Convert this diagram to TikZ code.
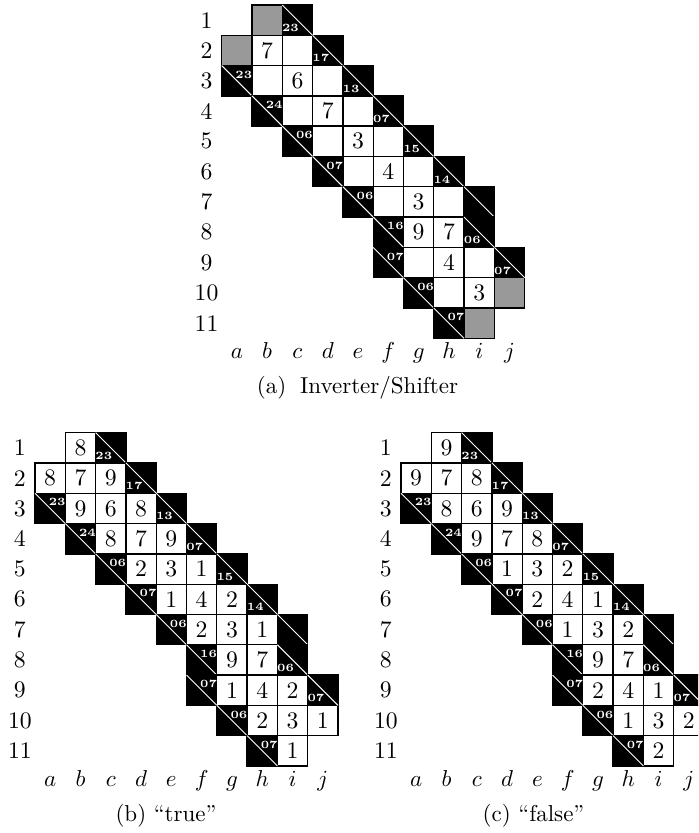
\documentclass[tikz,border=0pt]{standalone}
\usepackage{fontspec}
\newcommand\gp{A}
\newcommand\kwhite[3]{\draw[wcell] (#1-1,#2-1) rectangle (#1,#2); \node[digit] (\gp-w-#1-#2) at (#1-.5,#2-.5) {#3};}
\newcommand\kempty[2]{\draw[wcell] (#1-1,#2-1) rectangle (#1,#2);}
\newcommand\kgray[2]{\draw[gcell] (#1-1,#2-1) rectangle (#1,#2);}
\newcommand\kblack[4]{\draw[bcell] (#1-1,#2-1) rectangle (#1,#2);
  \draw[diag] (#1-1,#2-1) -- (#1,#2);
  \node[clue] (\gp-d-#1-#2) at (#1-.73,#2-.24) {#3};
  \node[clue] (\gp-a-#1-#2) at (#1-.27,#2-.70) {#4};}
\newcommand\kblacks{%
  \kblack{3}{1}{23}{}
  \kblack{4}{2}{17}{}
  \kblack{1}{3}{}{23} \kblack{5}{3}{13}{}
  \kblack{2}{4}{}{24} \kblack{6}{4}{07}{}
  \kblack{3}{5}{}{06} \kblack{7}{5}{15}{}
  \kblack{4}{6}{}{07} \kblack{8}{6}{14}{}
  \kblack{5}{7}{}{06} \kblack{9}{7}{}{}
  \kblack{6}{8}{}{16} \kblack{9}{8}{06}{}
  \kblack{6}{9}{}{07} \kblack{10}{9}{07}{}
  \kblack{7}{10}{}{06}
  \kblack{8}{11}{}{07}}
\newcommand\klabels{%
  \foreach \r in {1,...,11} {\node[lbl] (\gp-r-\r) at (-.5,\r-.5) {\r};}
  \foreach \c/\l in {1/a,2/b,3/c,4/d,5/e,6/f,7/g,8/h,9/i,10/j}
    {\node[lbl,anchor=base] (\gp-c-\c) at (\c-.5,11.67) {$\l$};}}
\begin{document}
\begin{tikzpicture}[x=0.4348pt,y=-0.4348pt,
  cellb/.style={draw=black,line width=0.6pt},
  wcell/.style={cellb,fill=white},
  gcell/.style={cellb,fill=black!40},
  bcell/.style={cellb,fill=black},
  diag/.style={draw=white,line width=0.4pt},
  digit/.style={inner sep=0pt,font=\fontsize{10.3}{12}\selectfont},
  clue/.style={inner sep=0pt,text=white,font=\fontsize{4.8}{5.5}\selectfont\bfseries},
  lbl/.style={inner sep=0pt,font=\fontsize{10.3}{12}\selectfont},
  capt/.style={inner sep=0pt,anchor=base,font=\fontsize{10}{12}\selectfont}]
\useasboundingbox (0,0) rectangle (698,833);
\clip (0,0) rectangle (698,833);
\fill[white] (0,0) rectangle (698,833);

% (a)
\begin{scope}[shift={(221.7,5)},x=13.174pt,y=-13.174pt]
\renewcommand\gp{A}
\kgray{2}{1}
\kgray{1}{2} \kwhite{2}{2}{7} \kempty{3}{2}
\kempty{2}{3} \kwhite{3}{3}{6} \kempty{4}{3}
\kempty{3}{4} \kwhite{4}{4}{7} \kempty{5}{4}
\kempty{4}{5} \kwhite{5}{5}{3} \kempty{6}{5}
\kempty{5}{6} \kwhite{6}{6}{4} \kempty{7}{6}
\kempty{6}{7} \kwhite{7}{7}{3} \kempty{8}{7}
\kwhite{7}{8}{9} \kwhite{8}{8}{7}
\kempty{7}{9} \kwhite{8}{9}{4} \kempty{9}{9}
\kempty{8}{10} \kwhite{9}{10}{3} \kgray{10}{10}
\kgray{9}{11}
\kblacks
\klabels
\end{scope}

% (b)
\begin{scope}[shift={(35,432.7)},x=13.174pt,y=-13.174pt]
\renewcommand\gp{B}
\kwhite{2}{1}{8}
\kwhite{1}{2}{8} \kwhite{2}{2}{7} \kwhite{3}{2}{9}
\kwhite{2}{3}{9} \kwhite{3}{3}{6} \kwhite{4}{3}{8}
\kwhite{3}{4}{8} \kwhite{4}{4}{7} \kwhite{5}{4}{9}
\kwhite{4}{5}{2} \kwhite{5}{5}{3} \kwhite{6}{5}{1}
\kwhite{5}{6}{1} \kwhite{6}{6}{4} \kwhite{7}{6}{2}
\kwhite{6}{7}{2} \kwhite{7}{7}{3} \kwhite{8}{7}{1}
\kwhite{7}{8}{9} \kwhite{8}{8}{7}
\kwhite{7}{9}{1} \kwhite{8}{9}{4} \kwhite{9}{9}{2}
\kwhite{8}{10}{2} \kwhite{9}{10}{3} \kwhite{10}{10}{1}
\kwhite{9}{11}{1}
\kblacks
\klabels
\end{scope}

% (c)
\begin{scope}[shift={(401,432.7)},x=13.174pt,y=-13.174pt]
\renewcommand\gp{C}
\kwhite{2}{1}{9}
\kwhite{1}{2}{9} \kwhite{2}{2}{7} \kwhite{3}{2}{8}
\kwhite{2}{3}{8} \kwhite{3}{3}{6} \kwhite{4}{3}{9}
\kwhite{3}{4}{9} \kwhite{4}{4}{7} \kwhite{5}{4}{8}
\kwhite{4}{5}{1} \kwhite{5}{5}{3} \kwhite{6}{5}{2}
\kwhite{5}{6}{2} \kwhite{6}{6}{4} \kwhite{7}{6}{1}
\kwhite{6}{7}{1} \kwhite{7}{7}{3} \kwhite{8}{7}{2}
\kwhite{7}{8}{9} \kwhite{8}{8}{7}
\kwhite{7}{9}{2} \kwhite{8}{9}{4} \kwhite{9}{9}{1}
\kwhite{8}{10}{1} \kwhite{9}{10}{3} \kwhite{10}{10}{2}
\kwhite{9}{11}{2}
\kblacks
\klabels
\end{scope}

\node[capt] (capA) at (357.5,394) {(a)\hspace{6pt}Inverter/Shifter};
\node[capt] (capB) at (166,821.5) {(b)\hspace{3.3pt}“true”};
\node[capt] (capC) at (533.5,821.5) {(c)\hspace{3.3pt}“false”};
\end{tikzpicture}
\end{document}
